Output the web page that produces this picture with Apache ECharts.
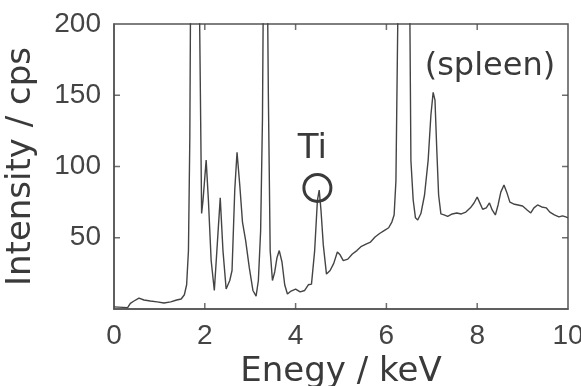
<!DOCTYPE html>
<html>
<head>
<meta charset="utf-8">
<script src="https://cdn.jsdelivr.net/npm/echarts@6/dist/echarts.min.js"></script>
<style>html,body{margin:0;padding:0;background:#fff;}#c{width:581px;height:386px;}</style>
</head>
<body>
<div id="c"></div>
<script>
// Energy (keV) and intensity (cps)
var energy = [0.00,0.30,0.36,0.44,0.55,0.66,0.80,0.95,1.10,1.25,1.38,1.48,1.55,1.60,1.64,1.67,1.70,1.74,1.80,1.86,1.90,1.93,1.96,2.03,2.08,2.14,2.21,2.28,2.34,2.40,2.47,2.55,2.60,2.66,2.71,2.77,2.83,2.90,2.98,3.06,3.13,3.18,3.23,3.27,3.31,3.36,3.40,3.44,3.49,3.54,3.59,3.64,3.70,3.76,3.82,3.90,4.00,4.10,4.20,4.28,4.35,4.42,4.48,4.52,4.56,4.61,4.68,4.76,4.84,4.92,4.98,5.05,5.15,5.25,5.35,5.45,5.55,5.65,5.75,5.85,5.95,6.05,6.12,6.17,6.21,6.25,6.30,6.40,6.46,6.50,6.54,6.59,6.64,6.69,6.76,6.84,6.92,6.98,7.03,7.07,7.11,7.15,7.20,7.27,7.35,7.45,7.55,7.65,7.75,7.85,7.93,8.00,8.05,8.12,8.20,8.27,8.33,8.40,8.46,8.52,8.59,8.65,8.72,8.80,8.90,9.00,9.10,9.18,9.25,9.33,9.42,9.52,9.60,9.70,9.80,9.88,9.95,10.00];
var intensity = [1.5,1,4,5.6,7.7,6.3,5.6,5,4.2,5,6.3,7,10,17,41,120,300,450,400,280,160,67,76,104.5,76,34,13,48,78,41,14,20,27,83.5,110,87,61,48,29,13,9,20,55,133,320,300,150,41,20,26,36,41,33,17,10.5,12.6,14,12,13,17,17.5,41,76,83.5,69,45,24.5,27,32,40,38,34,35,38.6,41,44,45.6,47,50.5,53,55,57,61,66,90,200,400,700,500,280,104,76.5,64,62.5,67,80,104.5,136,152,146.6,111.6,80,66.7,66,65,66.7,67.4,66.7,68,71,74.4,78.6,75,70,71,74.4,69.5,66,73,82,87,82,75,73.7,73,72.3,69.5,67.4,71,73,71.6,71,68,66,64.6,65.3,64.6,64];
var xTicks = [0,2,4,6,8,10];
var yTicks = [0,50,100,150,200];
var xTitle = 'Enegy / keV';
var yTitle = 'Intensity / cps';
var tiLabel = 'Ti';
var sampleLabel = '(spleen)';
var tiMark = [4.48, 85];      // circle around the Ti peak
var tiText = [4.37, 112];
var sampleText = [8.28, 170];

var points = energy.map(function (e, i) { return [e, intensity[i]]; });
var xMin = xTicks[0], xMax = xTicks[xTicks.length - 1];
var yMin = yTicks[0], yMax = yTicks[yTicks.length - 1];
var innerX = xTicks.slice(1, -1), innerY = yTicks.slice(1, -1);
var textColor = '#3a3a3a';
var tickColor = '#4a4a4a';
var TL = 6, TW = 1.5;

// inner tick marks on all four sides of the frame, placed through the axes' scales
var tickData = [];
innerX.forEach(function (v) {
  tickData.push({value: [v, yMin], symbolSize: [TW, TL], symbolOffset: [0, -TL / 2]});
  tickData.push({value: [v, yMax], symbolSize: [TW, TL], symbolOffset: [0, TL / 2]});
});
innerY.forEach(function (v) {
  tickData.push({value: [xMin, v], symbolSize: [TL, TW], symbolOffset: [TL / 2, 0]});
  tickData.push({value: [xMax, v], symbolSize: [TL, TW], symbolOffset: [-TL / 2, 0]});
});

var chart = echarts.init(document.getElementById('c'), null, {renderer: 'canvas'});
chart.setOption({
  animation: false,
  backgroundColor: '#fff',
  grid: {left: 114, right: 13, top: 24, bottom: 77, containLabel: false, outerBoundsMode: 'none',
    show: true, borderColor: '#555', borderWidth: 1.5, backgroundColor: 'transparent'},
  xAxis: {
    type: 'value', min: xMin, max: xMax, interval: 2,
    axisLine: {show: true, onZero: false, lineStyle: {color: '#555', width: 1.5}},
    axisTick: {show: false}, splitLine: {show: false},
    axisLabel: {color: '#444', fontSize: 28, fontFamily: 'Liberation Sans', margin: 13},
    name: xTitle, nameLocation: 'middle', nameGap: 40,
    nameTextStyle: {color: textColor, fontSize: 34, fontFamily: 'DejaVu Sans'}
  },
  yAxis: {
    type: 'value', min: yMin, max: yMax, interval: 50,
    axisLine: {show: true, onZero: false, lineStyle: {color: '#555', width: 1.5}},
    axisTick: {show: false}, splitLine: {show: false},
    axisLabel: {color: '#444', fontSize: 28, fontFamily: 'Liberation Sans', margin: 13,
      formatter: function (v) { return v === 0 ? '' : String(v); }},
    name: yTitle, nameLocation: 'middle', nameGap: 76, nameRotate: 90,
    nameTextStyle: {color: textColor, fontSize: 34, fontFamily: 'DejaVu Sans'}
  },
  series: [{
    type: 'line', data: points, showSymbol: false, clip: true,
    lineStyle: {color: '#444', width: 1.4}, silent: true,
    markPoint: {
      silent: true,
      data: [
        {coord: tiMark, symbol: 'circle', symbolSize: 27,
          itemStyle: {color: 'rgba(0,0,0,0)', borderColor: '#3a3a3a', borderWidth: 3},
          label: {show: false}},
        {coord: tiText, symbol: 'circle', symbolSize: 1, itemStyle: {color: 'rgba(0,0,0,0)'},
          label: {show: true, formatter: tiLabel, position: 'inside', color: textColor,
            fontSize: 34, fontFamily: 'DejaVu Sans'}},
        {coord: sampleText, symbol: 'circle', symbolSize: 1, itemStyle: {color: 'rgba(0,0,0,0)'},
          label: {show: true, formatter: sampleLabel, position: 'inside', color: textColor,
            fontSize: 32, fontFamily: 'DejaVu Sans'}}
      ]
    }
  }, {
    type: 'scatter', data: tickData, symbol: 'rect', silent: true, clip: false,
    itemStyle: {color: tickColor}
  }]
});
</script>
</body>
</html>
